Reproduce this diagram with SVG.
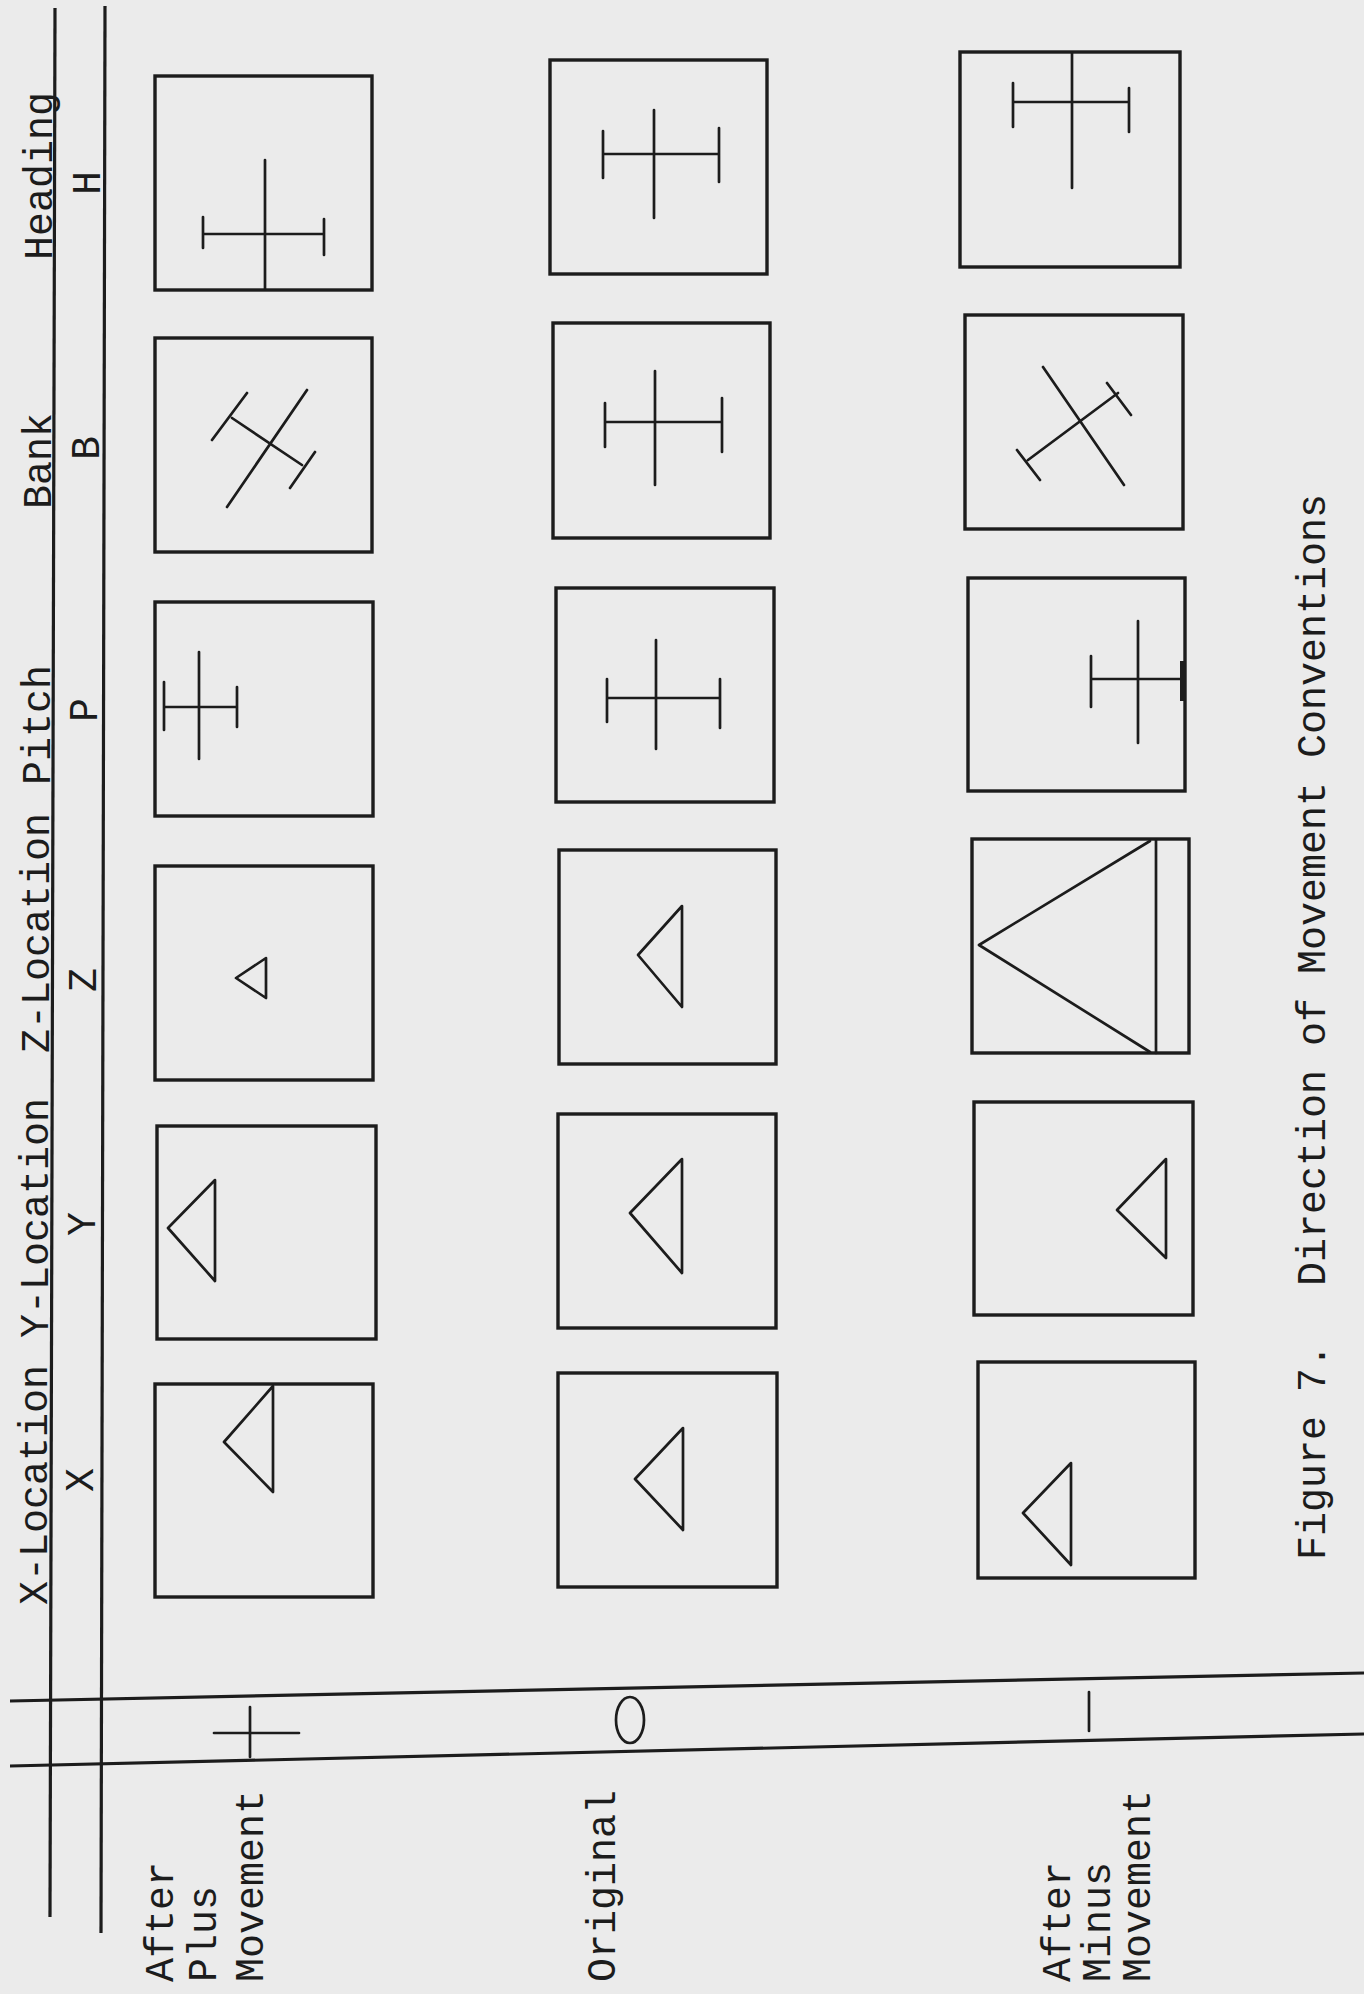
<svg xmlns="http://www.w3.org/2000/svg" width="1364" height="1994" viewBox="0 0 1364 1994">
<style>
.bg{fill:#ebebeb}
.box{fill:none;stroke:#1c1c1c;stroke-width:3.4}
.sym{fill:none;stroke:#1c1c1c;stroke-width:2.7;stroke-linecap:round;stroke-linejoin:round}
.rule{fill:none;stroke:#1c1c1c;stroke-width:3.2}
.t{font-family:"Liberation Mono","DejaVu Sans Mono",monospace;font-size:40px;fill:#1c1c1c}
</style>
<rect class="bg" x="0" y="0" width="1364" height="1994"/>

<g id="connectors">
  <line class="rule" x1="55" y1="8" x2="50" y2="1917"/>
  <line class="rule" x1="105" y1="6" x2="101" y2="1933"/>
  <line class="rule" x1="10" y1="1701" x2="1364" y2="1673"/>
  <line class="rule" x1="10" y1="1766" x2="1364" y2="1734"/>
</g>

<g id="header">
  <text class="t" transform="translate(47,1605) rotate(-90)">X-Location</text>
  <text class="t" transform="translate(48,1338) rotate(-90)">Y-Location</text>
  <text class="t" transform="translate(49,1053) rotate(-90)">Z-Location</text>
  <text class="t" transform="translate(50,785) rotate(-90)">Pitch</text>
  <text class="t" transform="translate(51,509) rotate(-90)">Bank</text>
  <text class="t" transform="translate(52,260) rotate(-90)">Heading</text>
</g>

<g id="column-letters">
  <text class="t" text-anchor="middle" transform="translate(93,1480) rotate(-90)">X</text>
  <text class="t" text-anchor="middle" transform="translate(95,1224) rotate(-90)">Y</text>
  <text class="t" text-anchor="middle" transform="translate(96,980) rotate(-90)">Z</text>
  <text class="t" text-anchor="middle" transform="translate(97,710) rotate(-90)">P</text>
  <text class="t" text-anchor="middle" transform="translate(99,448) rotate(-90)">B</text>
  <text class="t" text-anchor="middle" transform="translate(100,183) rotate(-90)">H</text>
</g>

<g id="row-labels">
  <g id="label-plus">
    <text class="t" transform="translate(173,1982) rotate(-90)">After</text>
    <text class="t" transform="translate(216,1982) rotate(-90)">Plus</text>
    <text class="t" transform="translate(263,1982) rotate(-90)">Movement</text>
    <path class="sym" d="M214,1733 H299 M250,1707 V1757"/>
  </g>
  <g id="label-original">
    <text class="t" transform="translate(615,1982) rotate(-90)">Original</text>
    <ellipse class="sym" cx="630" cy="1720" rx="14" ry="23"/>
  </g>
  <g id="label-minus">
    <text class="t" transform="translate(1070,1982) rotate(-90)">After</text>
    <text class="t" transform="translate(1110,1982) rotate(-90)">Minus</text>
    <text class="t" transform="translate(1150,1982) rotate(-90)">Movement</text>
    <path class="sym" d="M1089,1692 V1731"/>
  </g>
</g>

<!-- Plus movement column -->
<g id="plus-H">
  <rect class="box" x="155" y="76" width="217" height="214"/>
  <path class="sym" d="M265,160 V289 M203,234 H324 M203,217 V248 M324,219 V255"/>
</g>
<g id="plus-B">
  <rect class="box" x="155" y="338" width="217" height="214"/>
  <path class="sym" d="M307,390 L227,507 M232,418 L302,465 M247,393 L212,440 M315,452 L290,488"/>
</g>
<g id="plus-P">
  <rect class="box" x="155" y="602" width="218" height="214"/>
  <path class="sym" d="M199,652 V759 M164,707 H237 M164,682 V730 M237,687 V727"/>
</g>
<g id="plus-Z">
  <rect class="box" x="155" y="866" width="218" height="214"/>
  <path class="sym" d="M266,958 L236,978 L266,998 Z"/>
</g>
<g id="plus-Y">
  <rect class="box" x="157" y="1126" width="219" height="213"/>
  <path class="sym" d="M215,1180 L168,1228 L215,1281 Z"/>
</g>
<g id="plus-X">
  <rect class="box" x="155" y="1384" width="218" height="213"/>
  <path class="sym" d="M273,1386 L224,1442 L273,1492 Z"/>
</g>

<!-- Original column -->
<g id="orig-H">
  <rect class="box" x="550" y="60" width="217" height="214"/>
  <path class="sym" d="M654,110 V218 M603,154 H719 M603,131 V178 M719,128 V182"/>
</g>
<g id="orig-B">
  <rect class="box" x="553" y="323" width="217" height="215"/>
  <path class="sym" d="M655,371 V485 M605,422 H722 M605,403 V447 M722,398 V452"/>
</g>
<g id="orig-P">
  <rect class="box" x="556" y="588" width="218" height="214"/>
  <path class="sym" d="M656,640 V749 M607,698 H720 M607,679 V722 M720,679 V728"/>
</g>
<g id="orig-Z">
  <rect class="box" x="559" y="850" width="217" height="214"/>
  <path class="sym" d="M682,906 L638,955 L682,1007 Z"/>
</g>
<g id="orig-Y">
  <rect class="box" x="558" y="1114" width="218" height="214"/>
  <path class="sym" d="M682,1159 L630,1213 L682,1273 Z"/>
</g>
<g id="orig-X">
  <rect class="box" x="558" y="1373" width="219" height="214"/>
  <path class="sym" d="M683,1428 L635,1479 L683,1530 Z"/>
</g>

<!-- Minus movement column -->
<g id="minus-H">
  <rect class="box" x="960" y="52" width="220" height="215"/>
  <path class="sym" d="M1072,53 V188 M1013,102 H1129 M1013,83 V127 M1129,88 V132"/>
</g>
<g id="minus-B">
  <rect class="box" x="965" y="315" width="218" height="214"/>
  <path class="sym" d="M1043,367 L1124,485 M1028,460 L1118,393 M1017,450 L1040,480 M1107,383 L1131,415"/>
</g>
<g id="minus-P">
  <rect class="box" x="968" y="578" width="217" height="213"/>
  <path class="sym" d="M1138,621 V743 M1091,679 H1183 M1091,656 V707"/>
  <line x1="1183" y1="661" x2="1183" y2="701" stroke="#1c1c1c" stroke-width="6"/>
</g>
<g id="minus-Z">
  <rect class="box" x="972" y="839" width="217" height="214"/>
  <path class="sym" d="M1150,841 L979,945 L1150,1052 M1156,840 V1053"/>
</g>
<g id="minus-Y">
  <rect class="box" x="974" y="1102" width="219" height="213"/>
  <path class="sym" d="M1166,1159 L1117,1210 L1166,1258 Z"/>
</g>
<g id="minus-X">
  <rect class="box" x="978" y="1362" width="217" height="216"/>
  <path class="sym" d="M1071,1463 L1023,1513 L1071,1565 Z"/>
</g>

<g id="caption">
  <text class="t" transform="translate(1325,1560) rotate(-90)">Figure 7.</text>
  <text class="t" transform="translate(1325,1286) rotate(-90)">Direction of Movement Conventions</text>
</g>
</svg>
